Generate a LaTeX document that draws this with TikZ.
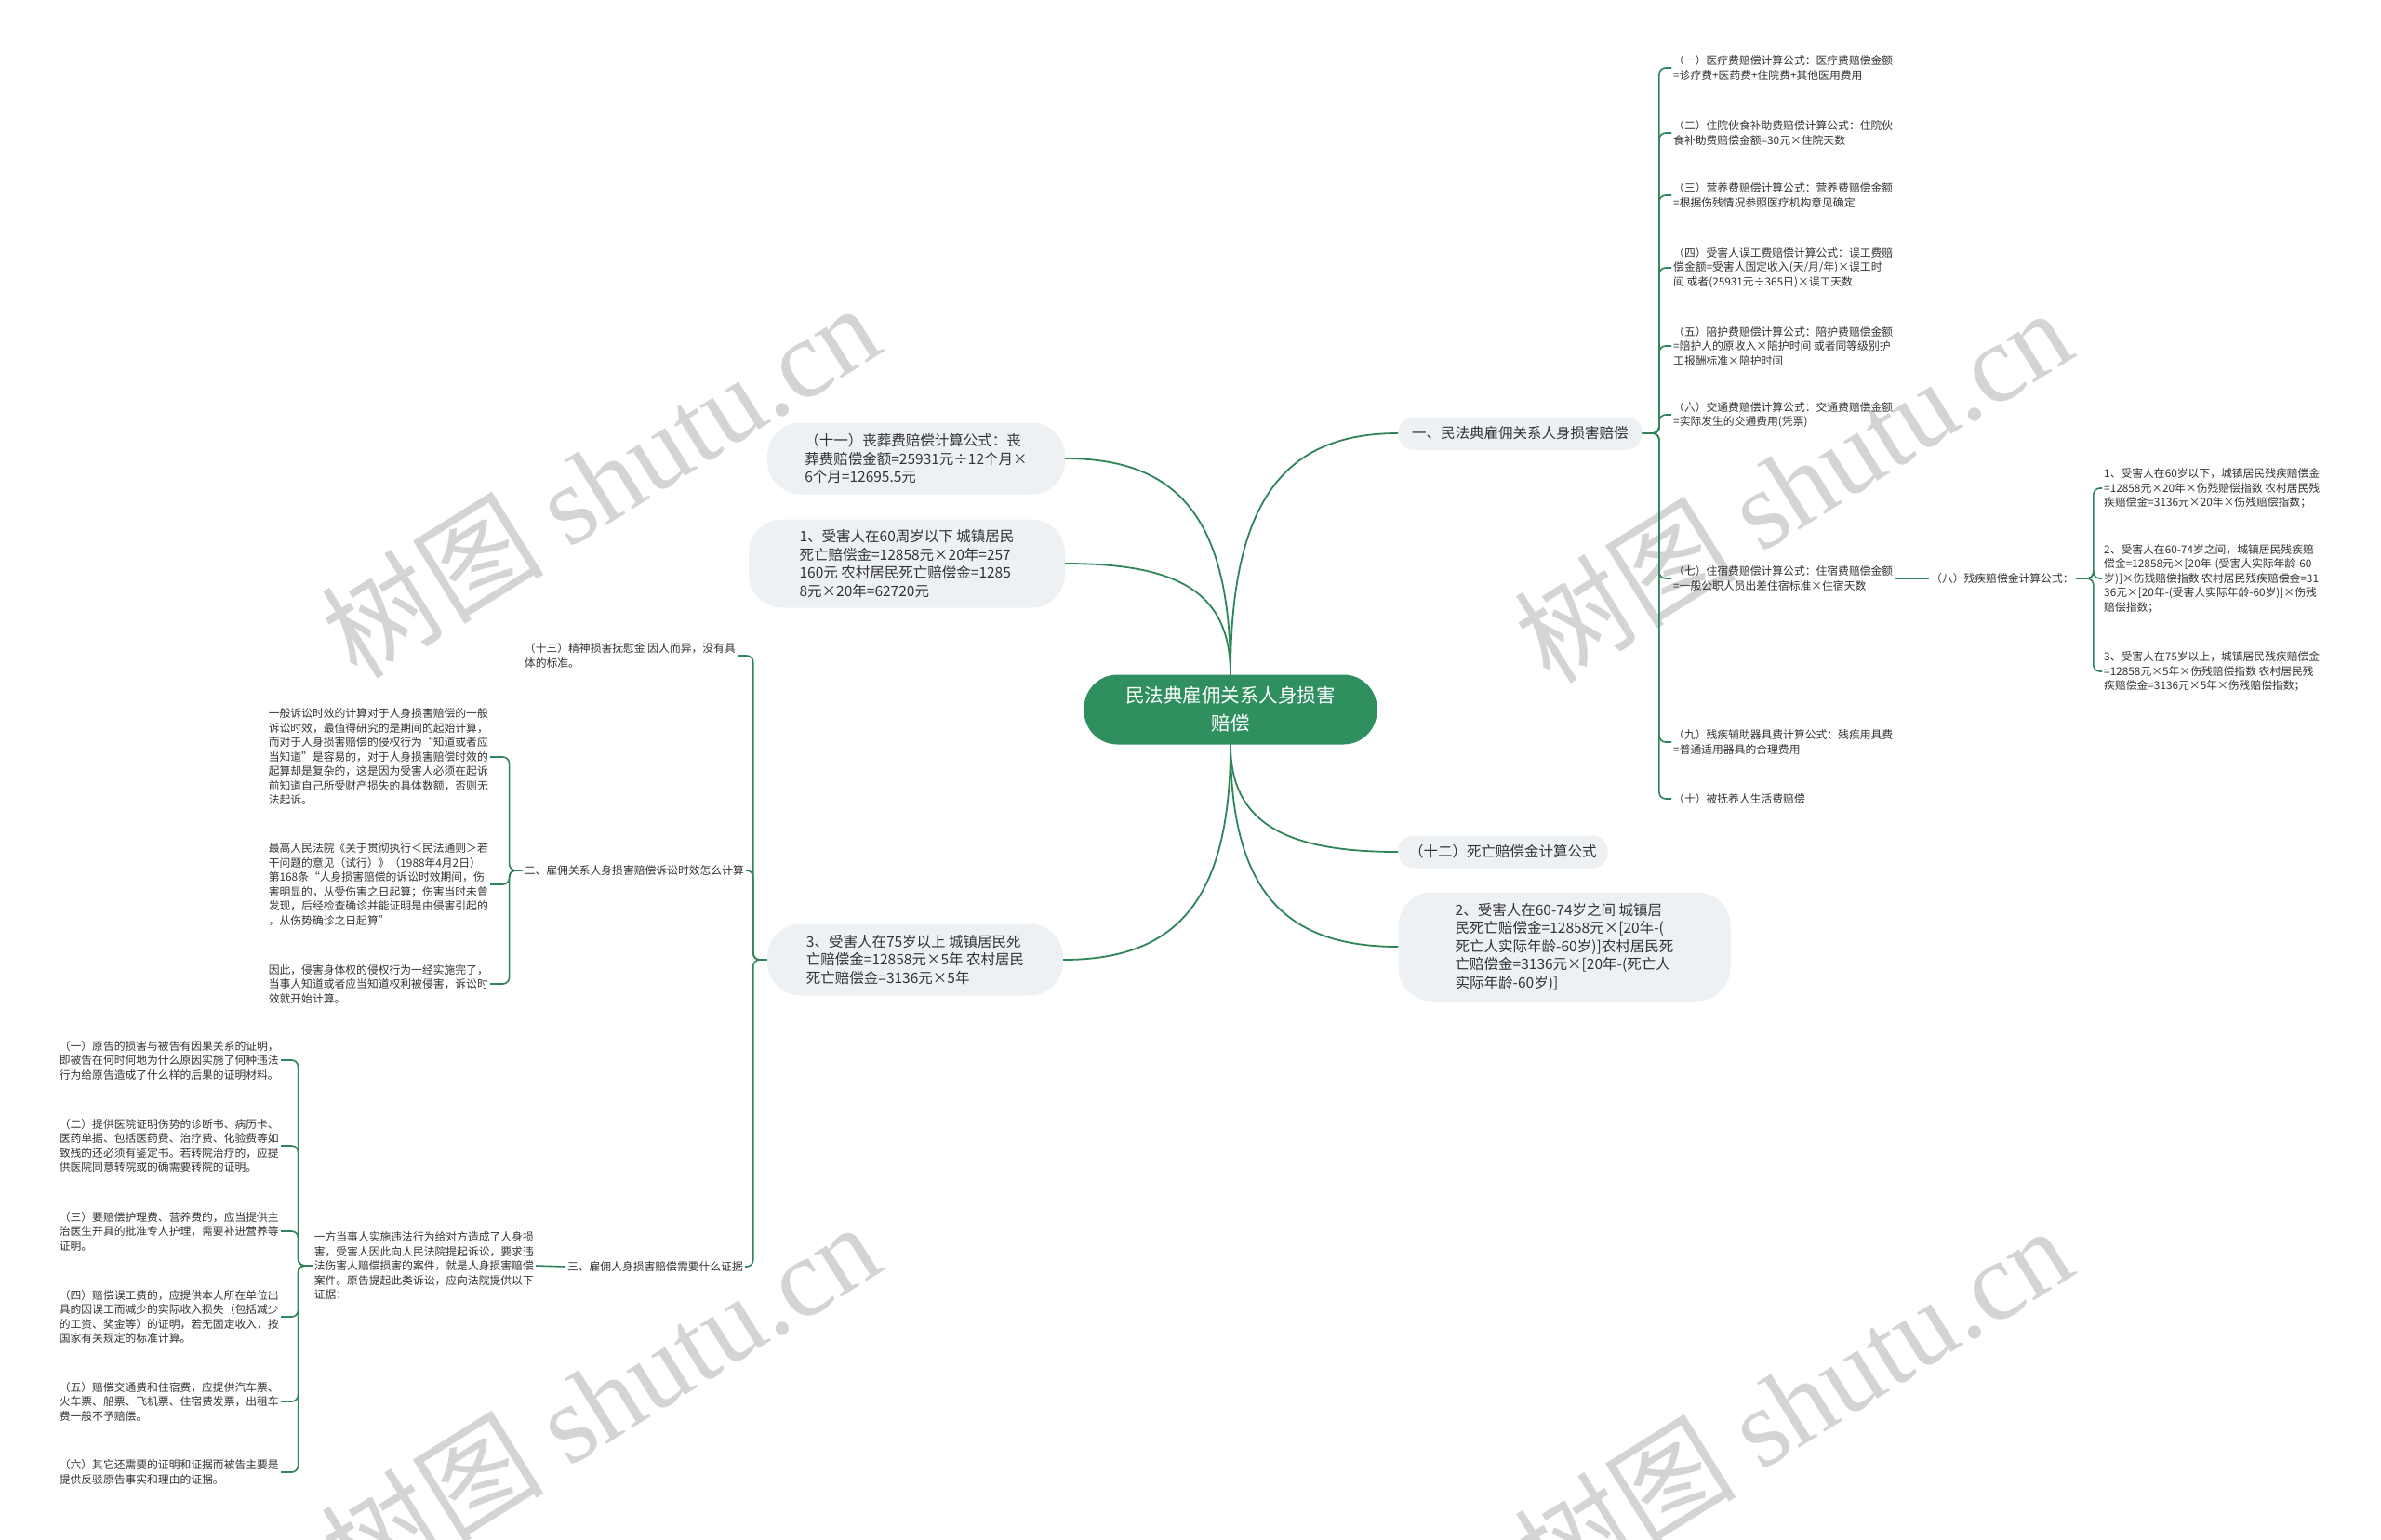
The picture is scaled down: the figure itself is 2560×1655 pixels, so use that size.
\documentclass[tikz,border=0pt]{standalone}
\usepackage{fontspec}
\setmainfont{Noto Sans CJK SC}
\newfontfamily\markfont{Liberation Serif}
\usepackage{tikz}
\usepackage{xcolor}
\usetikzlibrary{calc}
\definecolor{ink}{HTML}{333333}
\definecolor{rootfill}{HTML}{2F8F5E}
\definecolor{linegreen}{HTML}{2F8558}
\definecolor{panel}{HTML}{EEF1F4}
\definecolor{wmgray}{HTML}{D4D4D4}
\tikzset{
  rootnode/.style={fill=rootfill, text=white, rounded corners=36pt, align=center,
                   font=\fontsize{20.5}{30}\selectfont, minimum width=315pt, minimum height=75pt},
  topic/.style={fill=panel, text=ink, rounded corners=17pt, align=left, inner xsep=15pt,
                font=\fontsize{15.5}{19.5}\selectfont, minimum height=35pt},
  bigtopic/.style={topic, rounded corners=36pt},
  note/.style={text=ink, align=left, inner sep=2pt, font=\fontsize{11.8}{15.5}\selectfont},
  branch/.style={draw=linegreen, line width=1.6pt, rounded corners=7pt},
  curve/.style={draw=linegreen, line width=1.8pt},
  watermark/.style={text=wmgray, rotate=32, font=\fontsize{120}{120}\selectfont}
}

\begin{document}
\begin{tikzpicture}[x=1pt,y=-1pt]
  \fill[white] (0,0) rectangle (2560,1655);
  \useasboundingbox (0,0) rectangle (2560,1655);

  \foreach \p in {(645,516),(1927,521),(645,1504),(1927,1508)}
    \node[watermark] at \p {树图 {\markfont shutu.cn}};

  \node[rootnode] (root) at (1323,763) {民法典雇佣关系人身损害\\赔偿};

  \node[topic, anchor=west] (sec1) at (1503,466) {一、民法典雇佣关系人身损害赔偿};
  \node[topic, anchor=west, inner xsep=12pt] (sec12) at (1503,916) {（十二）死亡赔偿金计算公式};
  \node[bigtopic, minimum width=357pt, minimum height=117pt] (death2) at (1682,1018)
    {2、受害人在60-74岁之间 城镇居\\民死亡赔偿金=12858元×[20年-(\\死亡人实际年龄-60岁)]农村居民死\\亡赔偿金=3136元×[20年-(死亡人\\实际年龄-60岁)]};
  \node[bigtopic, minimum width=320pt, minimum height=77pt] (funeral) at (985,493)
    {（十一）丧葬费赔偿计算公式：丧\\葬费赔偿金额=25931元÷12个月×\\6个月=12695.5元};
  \node[bigtopic, minimum width=340pt, minimum height=95pt] (death1) at (975,606)
    {1、受害人在60周岁以下 城镇居民\\死亡赔偿金=12858元×20年=257\\160元 农村居民死亡赔偿金=1285\\8元×20年=62720元};
  \node[bigtopic, minimum width=318pt, minimum height=77pt] (death3) at (984,1032)
    {3、受害人在75岁以上 城镇居民死\\亡赔偿金=12858元×5年 农村居民\\死亡赔偿金=3136元×5年};

  \node[note, anchor=west] (r1) at (1797,73) {（一）医疗费赔偿计算公式：医疗费赔偿金额\\=诊疗费+医药费+住院费+其他医用费用};
  \node[note, anchor=west] (r2) at (1797,143) {（二）住院伙食补助费赔偿计算公式：住院伙\\食补助费赔偿金额=30元×住院天数};
  \node[note, anchor=west] (r3) at (1797,210) {（三）营养费赔偿计算公式：营养费赔偿金额\\=根据伤残情况参照医疗机构意见确定};
  \node[note, anchor=west] (r4) at (1797,288) {（四）受害人误工费赔偿计算公式：误工费赔\\偿金额=受害人固定收入(天/月/年)×误工时\\间 或者(25931元÷365日)×误工天数};
  \node[note, anchor=west] (r5) at (1797,372) {（五）陪护费赔偿计算公式：陪护费赔偿金额\\=陪护人的原收入×陪护时间 或者同等级别护\\工报酬标准×陪护时间};
  \node[note, anchor=west] (r6) at (1797,446) {（六）交通费赔偿计算公式：交通费赔偿金额\\=实际发生的交通费用(凭票)};
  \node[note, anchor=west] (r7) at (1797,622) {（七）住宿费赔偿计算公式：住宿费赔偿金额\\=一般公职人员出差住宿标准×住宿天数};
  \node[note, anchor=west] (r9) at (1797,798) {（九）残疾辅助器具费计算公式：残疾用具费\\=普通适用器具的合理费用};
  \node[note, anchor=west] (r10) at (1797,859) {（十）被抚养人生活费赔偿};

  \node[note, anchor=west] (r8) at (2074,622) {（八）残疾赔偿金计算公式：};
  \node[note, anchor=west] (d1) at (2260,525) {1、受害人在60岁以下，城镇居民残疾赔偿金\\=12858元×20年×伤残赔偿指数 农村居民残\\疾赔偿金=3136元×20年×伤残赔偿指数；};
  \node[note, anchor=west] (d2) at (2260,622) {2、受害人在60-74岁之间，城镇居民残疾赔\\偿金=12858元×[20年-(受害人实际年龄-60\\岁)]×伤残赔偿指数 农村居民残疾赔偿金=31\\36元×[20年-(受害人实际年龄-60岁)]×伤残\\赔偿指数；};
  \node[note, anchor=west] (d3) at (2260,722) {3、受害人在75岁以上，城镇居民残疾赔偿金\\=12858元×5年×伤残赔偿指数 农村居民残\\疾赔偿金=3136元×5年×伤残赔偿指数；};

  \node[note, anchor=east] (mental) at (793,705) {（十三）精神损害抚慰金 因人而异，没有具\\体的标准。};
  \node[note, anchor=east] (limit) at (802,936) {二、雇佣关系人身损害赔偿诉讼时效怎么计算};
  \node[note, anchor=east] (proof) at (801,1362) {三、雇佣人身损害赔偿需要什么证据};

  \node[note, anchor=east] (lim1) at (527,814) {一般诉讼时效的计算对于人身损害赔偿的一般\\诉讼时效，最值得研究的是期间的起始计算，\\而对于人身损害赔偿的侵权行为“知道或者应\\当知道”是容易的，对于人身损害赔偿时效的\\起算却是复杂的，这是因为受害人必须在起诉\\前知道自己所受财产损失的具体数额，否则无\\法起诉。};
  \node[note, anchor=east] (lim2) at (527,951) {最高人民法院《关于贯彻执行＜民法通则＞若\\干问题的意见（试行）》（1988年4月2日）\\第168条“人身损害赔偿的诉讼时效期间，伤\\害明显的，从受伤害之日起算；伤害当时未曾\\发现，后经检查确诊并能证明是由侵害引起的\\，从伤势确诊之日起算”};
  \node[note, anchor=east] (lim3) at (527,1058) {因此，侵害身体权的侵权行为一经实施完了，\\当事人知道或者应当知道权利被侵害，诉讼时\\效就开始计算。};

  \node[note, anchor=east] (intro) at (576,1361) {一方当事人实施违法行为给对方造成了人身损\\害，受害人因此向人民法院提起诉讼，要求违\\法伤害人赔偿损害的案件，就是人身损害赔偿\\案件。原告提起此类诉讼，应向法院提供以下\\证据：};
  \node[note, anchor=east] (p1) at (302,1140) {（一）原告的损害与被告有因果关系的证明，\\即被告在何时何地为什么原因实施了何种违法\\行为给原告造成了什么样的后果的证明材料。};
  \node[note, anchor=east] (p2) at (302,1232) {（二）提供医院证明伤势的诊断书、病历卡、\\医药单据、包括医药费、治疗费、化验费等如\\致残的还必须有鉴定书。若转院治疗的，应提\\供医院同意转院或的确需要转院的证明。};
  \node[note, anchor=east] (p3) at (302,1324) {（三）要赔偿护理费、营养费的，应当提供主\\治医生开具的批准专人护理，需要补进营养等\\证明。};
  \node[note, anchor=east] (p4) at (302,1416) {（四）赔偿误工费的，应提供本人所在单位出\\具的因误工而减少的实际收入损失（包括减少\\的工资、奖金等）的证明，若无固定收入，按\\国家有关规定的标准计算。};
  \node[note, anchor=east] (p5) at (302,1507) {（五）赔偿交通费和住宿费，应提供汽车票、\\火车票、船票、飞机票、住宿费发票，出租车\\费一般不予赔偿。};
  \node[note, anchor=east] (p6) at (302,1583) {（六）其它还需要的证明和证据而被告主要是\\提供反驳原告事实和理由的证据。};

  \draw[curve] (root.north) .. controls +(0,-190) and +(-120,0) .. (sec1.west);
  \draw[curve] (root.south) .. controls +(0,85) and +(-120,0) .. (sec12.west);
  \draw[curve] (root.south) .. controls +(0,160) and +(-120,0) .. (death2.west);
  \draw[curve] (root.north) .. controls +(0,-170) and +(120,0) .. (funeral.east);
  \draw[curve] (root.north) .. controls +(0,-90) and +(120,0) .. (death1.east);
  \draw[curve] (root.south) .. controls +(0,170) and +(120,0) .. (death3.east);

  \foreach \n in {r1,r2,r3,r4,r5,r6,r7,r9,r10}
    \draw[branch] (sec1.east) -- ++(18,0) |- (\n.west);
  \draw[branch] (r7.east) -- (r8.west);
  \foreach \n in {d1,d2,d3}
    \draw[branch] (r8.east) -- ++(19,0) |- (\n.west);

  \foreach \n in {mental,limit,proof}
    \draw[branch] (death3.west) -- ++(-15,0) |- (\n.east);
  \foreach \n in {lim1,lim2,lim3}
    \draw[branch] (limit.west) -- ++(-14,0) |- (\n.east);
  \draw[branch] (proof.west) -- (intro.east);
  \foreach \n in {p1,p2,p3,p4,p5,p6}
    \draw[branch] (intro.west) -- ++(-15,0) |- (\n.east);
\end{tikzpicture}
\end{document}
